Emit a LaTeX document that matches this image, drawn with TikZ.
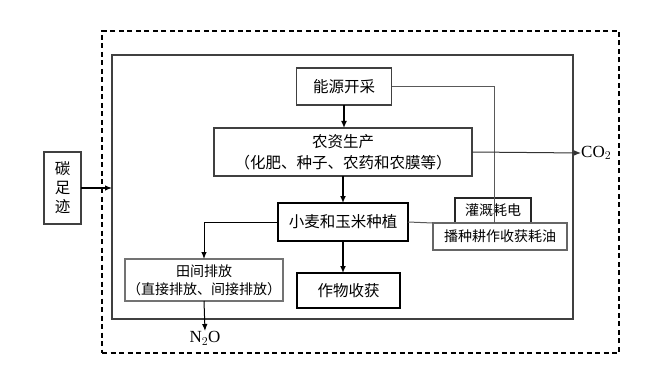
\documentclass[tikz,border=0pt]{standalone}
\usepackage{fontspec}
\setmainfont{Liberation Serif}
\newfontfamily\cjk{Noto Sans CJK SC}
\usetikzlibrary{arrows.meta}
\begin{document}
\begin{tikzpicture}[x=1pt,y=-1pt,
  box/.style={draw=black!75, line width=1.1pt, inner sep=0pt, outer sep=0pt, align=center},
  big/.style={font=\cjk\fontsize{15.5}{21}\selectfont},
  small/.style={font=\cjk\fontsize{14}{18}\selectfont},
  conn/.style={draw=black!65, line width=1pt},
  arr/.style={-{Latex[length=7pt,width=5.5pt]}},
  thickarr/.style={line width=1.6pt, -{Latex[length=7pt,width=6pt]}},
]
\useasboundingbox (0,0) rectangle (645,377);
% frames
\node[draw, dash pattern=on 5pt off 3.5pt, line width=1.2pt, inner sep=0pt, outer sep=0pt, minimum width=517pt, minimum height=322pt] (outer) at (360.5,192) {};
\node[draw=black!75, line width=1.1pt, inner sep=0pt, outer sep=0pt, minimum width=461pt, minimum height=264pt] (inner) at (342.5,187) {};
% boxes
\node[box, big, minimum width=95pt, minimum height=37pt] (ny) at (344,86.5) {能源开采};
\node[box, big, minimum width=258pt, minimum height=48pt] (nz) at (343,152) {农资生产\\（化肥、种子、农药和农膜等）};
\node[box, big, draw=black, minimum width=130pt, minimum height=38pt] (xm) at (343,222) {小麦和玉米种植};
\node[box, big, draw=black, minimum width=103pt, minimum height=35pt] (zw) at (348.5,290.5) {作物收获};
\node[box, small, draw=black!55, minimum width=158pt, minimum height=42pt] (tj) at (204,280) {田间排放\\（直接排放、间接排放）};
\node[box, small, draw=black!85, minimum width=76pt, minimum height=25pt] (gg) at (493,210.5) {灌溉耗电};
\node[box, small, draw=black!60, minimum width=134pt, minimum height=27pt] (bz) at (500,236.5) {播种耕作收获耗油};
\node[box, big, minimum width=37pt, minimum height=72pt, font=\cjk\fontsize{15.5}{19}\selectfont] (tzj) at (62.5,188) {碳\\足\\迹};
% outputs
\node[inner sep=0pt, anchor=west, font=\fontsize{17}{20}\selectfont] (co2) at (581,153) {CO$_2$};
\node[inner sep=0pt, anchor=north, font=\fontsize{17}{20}\selectfont] (n2o) at (205,331) {N$_2$O};
\coordinate (j1) at (494,223);
% connectors
\draw[conn] (ny.east) -| (j1);
\draw[thickarr] (ny.south) -- (nz.north -| ny.south);
\draw[thickarr] (nz.south -| xm.north) -- (xm.north);
\draw[thickarr] (xm.south) -- (zw.north -| xm.south);
\draw[conn] (xm.east) -- (bz.north west);
\draw[conn, draw=black, arr] (xm.west) -| (tj.north);
\draw[conn, draw=black, arr] (tj.south) -- (n2o.north);
\draw[conn, draw=black!80, arr] (nz.east) -- (co2.west);
\draw[line width=1.1pt, arr] (tzj.east) -- (tzj.east -| inner.west);
\end{tikzpicture}
\end{document}
